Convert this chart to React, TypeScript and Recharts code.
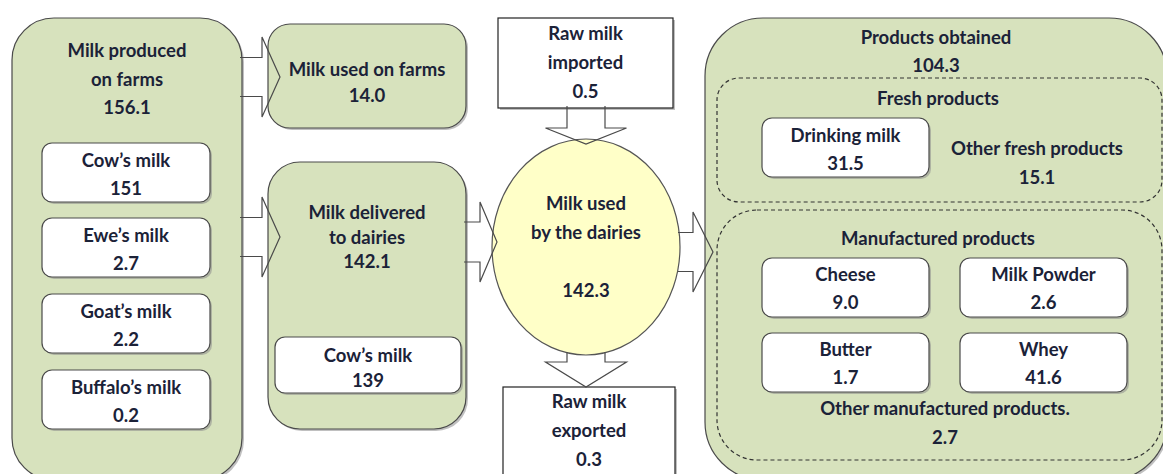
import React from 'react';
import { ScatterChart, Scatter, XAxis, YAxis } from 'recharts';

const W = 1163;
const H = 474;

// texts and values
const farmTitle = ['Milk produced', 'on farms'];
const farmTotal = '156.1';
const farmSpecies = ['Cow’s milk', 'Ewe’s milk', 'Goat’s milk', 'Buffalo’s milk'];
const farmValues = ['151', '2.7', '2.2', '0.2'];

const onFarmLabel = 'Milk used on farms';
const onFarmValue = '14.0';

const deliveredTitle = ['Milk delivered', 'to dairies'];
const deliveredTotal = '142.1';
const deliveredCow = ['Cow’s milk', '139'];

const importedLabel = ['Raw milk', 'imported'];
const importedValue = '0.5';
const exportedLabel = ['Raw milk', 'exported'];
const exportedValue = '0.3';

const dairyLabel = ['Milk used', 'by the dairies'];
const dairyValue = '142.3';

const productsTitle = 'Products obtained';
const productsTotal = '104.3';
const freshTitle = 'Fresh products';
const freshItems = ['Drinking milk', 'Other fresh products'];
const freshValues = ['31.5', '15.1'];
const manufTitle = 'Manufactured products';
const manufItems = ['Cheese', 'Milk Powder', 'Butter', 'Whey'];
const manufValues = ['9.0', '2.6', '1.7', '41.6'];
const otherManuf = 'Other manufactured products.';
const otherManufValue = '2.7';

// ---- layout (pixels of the 1163x474 canvas) ----
type Line = { t: string; dy: number };
type Box = { x: number; y: number; w: number; h: number; r: number; lines: Line[] };

const ln = (texts: string[], dys: number[]): Line[] => texts.map((t, i) => ({ t, dy: dys[i] }));

const greenBoxes: Box[] = [
  { x: 12, y: 18, w: 230, h: 462, r: 42, lines: ln([...farmTitle, farmTotal], [32, 61, 89]) },
  { x: 268, y: 24, w: 198, h: 104, r: 22, lines: ln([onFarmLabel, onFarmValue], [45, 71]) },
  { x: 268, y: 162, w: 198, h: 267, r: 32, lines: ln([...deliveredTitle, deliveredTotal], [50, 75, 99]) },
  { x: 705, y: 18, w: 462, h: 462, r: 58, lines: [] },
];

const dashedBoxes: Box[] = [
  { x: 717, y: 78, w: 445, h: 124, r: 22, lines: [] },
  { x: 717, y: 210, w: 445, h: 250, r: 40, lines: [] },
];

const subTops = [143, 218, 294, 370];
const manufPos = [
  { x: 762, y: 258 },
  { x: 960, y: 258 },
  { x: 762, y: 333 },
  { x: 960, y: 333 },
];

const whiteBoxes: Box[] = [
  ...farmSpecies.map((s, i) => ({ x: 42, y: subTops[i], w: 168, h: 59, r: 10, lines: ln([s, farmValues[i]], [17, 45]) })),
  { x: 275, y: 337, w: 186, h: 56, r: 10, lines: ln(deliveredCow, [18, 43]) },
  { x: 762, y: 118, w: 167, h: 59, r: 10, lines: ln([freshItems[0], freshValues[0]], [17, 45]) },
  ...manufItems.map((s, i) => ({ ...manufPos[i], w: 167, h: 59, r: 10, lines: ln([s, manufValues[i]], [16, 44]) })),
];

const plainBoxes: Box[] = [
  { x: 498, y: 18, w: 175, h: 90, r: 0, lines: ln([...importedLabel, importedValue], [15, 44, 73]) },
  { x: 503, y: 387, w: 172, h: 92, r: 0, lines: ln([...exportedLabel, exportedValue], [14, 43, 72]) },
];

const ellipse = [{ x: 586, y: 247, rx: 94, ry: 108, lines: ln([...dairyLabel, dairyValue], [-44, -15, 43]) }];

// arrows: point = tip
const arrows = [
  { x: 280, y: 77, dir: 'right', hl: 18, s: 22, sw: 19.5, hw: 40 },
  { x: 280, y: 237, dir: 'right', hl: 18, s: 22, sw: 19.5, hw: 40 },
  { x: 497, y: 242, dir: 'right', hl: 17, s: 16, sw: 20, hw: 40 },
  { x: 713, y: 252, dir: 'right', hl: 20, s: 15, sw: 19.5, hw: 40 },
  { x: 586, y: 144, dir: 'down', hl: 16, s: 22, sw: 19, hw: 40.5 },
  { x: 586, y: 387, dir: 'down', hl: 25, s: 10, sw: 19, hw: 40.5 },
];

const labels = [
  { x: 936, y: 37, t: productsTitle },
  { x: 936, y: 65, t: productsTotal },
  { x: 938, y: 98, t: freshTitle },
  { x: 1037, y: 148, t: freshItems[1] },
  { x: 1037, y: 177, t: freshValues[1] },
  { x: 938, y: 238, t: manufTitle },
  { x: 945, y: 408, t: otherManuf },
  { x: 945, y: 437, t: otherManufValue },
];

const TEXT = '#1b2238';
const GREEN = '#d7e2bd';
const EDGE = '#4a4a4a';
const font = { fontFamily: 'Lato, "Open Sans", sans-serif', fontWeight: 700, fontSize: 18.5 };

const Txt = ({ x, y, t }: { x: number; y: number; t: string }) => (
  <text x={x} y={y} textAnchor="middle" dominantBaseline="central" fill={TEXT} style={font}>
    {t}
  </text>
);

const boxShape = (fill: string, stroke: string, opts: { dash?: string; shadow?: boolean } = {}) => (props: any) => {
  const { cx, cy, payload } = props;
  const b = payload as Box;
  return (
    <g>
      {opts.shadow && (
        <rect x={cx + 2} y={cy + 2} width={b.w} height={b.h} rx={b.r} fill="#8c8c8c" opacity={0.55} />
      )}
      <rect
        x={cx}
        y={cy}
        width={b.w}
        height={b.h}
        rx={b.r}
        fill={fill}
        stroke={stroke}
        strokeWidth={1.2}
        strokeDasharray={opts.dash}
      />
      {b.lines.map((l, i) => (
        <Txt key={i} x={cx + b.w / 2} y={cy + l.dy} t={l.t} />
      ))}
    </g>
  );
};

const ellipseShape = (props: any) => {
  const { cx, cy, payload } = props;
  return (
    <g>
      <ellipse cx={cx} cy={cy} rx={payload.rx} ry={payload.ry} fill="#ffffc8" stroke="#555" strokeWidth={1.2} />
      {payload.lines.map((l: Line, i: number) => (
        <Txt key={i} x={cx} y={cy + l.dy} t={l.t} />
      ))}
    </g>
  );
};

const arrowShape = (props: any) => {
  const { cx, cy, payload: a } = props;
  const base = -a.hl;
  const tail = -a.hl - a.s;
  const rel = [
    [tail, -a.sw],
    [base, -a.sw],
    [base, -a.hw],
    [0, 0],
    [base, a.hw],
    [base, a.sw],
    [tail, a.sw],
  ];
  const pts = rel
    .map(([u, v]) => (a.dir === 'right' ? `${cx + u},${cy + v}` : `${cx + v},${cy + u}`))
    .join(' ');
  return <polyline points={pts} fill="none" stroke={EDGE} strokeWidth={1.2} strokeLinejoin="miter" />;
};

const labelShape = (props: any) => <Txt x={props.cx} y={props.cy} t={props.payload.t} />;

export default function App() {
  return (
    <div style={{ width: W, height: H, background: '#fff' }}>
      <style>{'body{margin:0}'}</style>
      <ScatterChart width={W} height={H} margin={{ top: 0, right: 0, bottom: 0, left: 0 }}>
        <XAxis type="number" dataKey="x" domain={[0, W]} allowDataOverflow hide />
        <YAxis type="number" dataKey="y" domain={[0, H]} allowDataOverflow reversed hide />
        <Scatter data={greenBoxes} shape={boxShape(GREEN, EDGE, { shadow: true })} isAnimationActive={false} />
        <Scatter data={dashedBoxes} shape={boxShape('none', '#333', { dash: '4 3' })} isAnimationActive={false} />
        <Scatter data={whiteBoxes} shape={boxShape('#fff', EDGE, { shadow: true })} isAnimationActive={false} />
        <Scatter data={plainBoxes} shape={boxShape('#fff', '#222', { shadow: true })} isAnimationActive={false} />
        <Scatter data={ellipse} shape={ellipseShape} isAnimationActive={false} />
        <Scatter data={arrows} shape={arrowShape} isAnimationActive={false} />
        <Scatter data={labels} shape={labelShape} isAnimationActive={false} />
      </ScatterChart>
    </div>
  );
}
